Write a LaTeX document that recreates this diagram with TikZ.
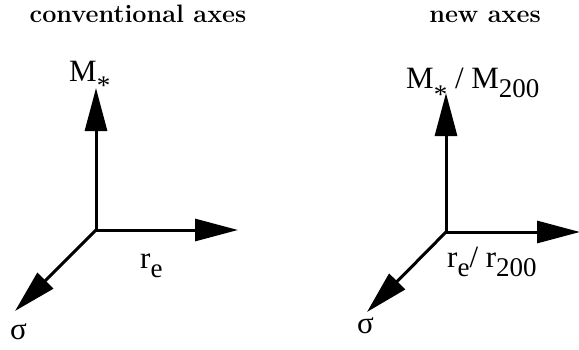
\documentclass[tikz,border=0pt]{standalone}
\usepackage{fontspec}
\usepackage{tikz}
\usetikzlibrary{calc, positioning, arrows.meta}
\newfontfamily\lblfont{Liberation Serif}
\newcommand{\lowsub}[1]{\raisebox{-9pt}{\fontsize{27}{30}\selectfont #1}}
\newcommand{\lowstar}[1]{\raisebox{#1}{\fontsize{27}{30}\selectfont *}}

\begin{document}
\begin{tikzpicture}[x=1pt, y=1pt,
    >={Triangle[length=43pt, width=22pt]},
    axis/.style={->, line width=3pt},
    axlabel/.style={font=\lblfont\fontsize{31}{34}\selectfont, inner sep=0pt, anchor=base west},
    heading/.style={font=\fontsize{25.2}{28}\selectfont\bfseries, inner sep=0pt, anchor=base}]
  \useasboundingbox (0, 0) rectangle (579, 349);

  % conventional axes
  \coordinate (oL) at (96, 119);
  \coordinate (mL) at (96, 261);
  \coordinate (rL) at (238, 119);
  \coordinate (sL) at (15, 38);
  \draw[axis] (oL) -- (mL);
  \draw[axis] (oL) -- (rL);
  \draw[axis] (oL) -- (sL);
  \node[heading] (hL) at (138, 326) {conventional axes};
  \node[axlabel] (mLlbl) at (69, 268) {M\lowstar{-13pt}};
  \node[axlabel] (rLlbl) at (140, 81) {r\lowsub{e}};
  \node[axlabel] (sLlbl) at (10, 10) {σ};

  % new axes
  \coordinate (oR) at (446, 117);
  \coordinate (mR) at (446, 256);
  \coordinate (rR) at (580, 117);
  \coordinate (sR) at (367, 37);
  \draw[axis] (oR) -- (mR);
  \draw[axis] (oR) -- (rR);
  \draw[axis] (oR) -- (sR);
  \node[heading] (hR) at (485, 326) {new axes};
  \node[axlabel] (mRlbl) at (406, 261) {M\lowstar{-16pt} / M\lowsub{200}};
  \node[axlabel] (rRlbl) at (447, 82) {r\lowsub{e}/ r\lowsub{200}};
  \node[axlabel] (sRlbl) at (357, 16) {σ};
\end{tikzpicture}
\end{document}
